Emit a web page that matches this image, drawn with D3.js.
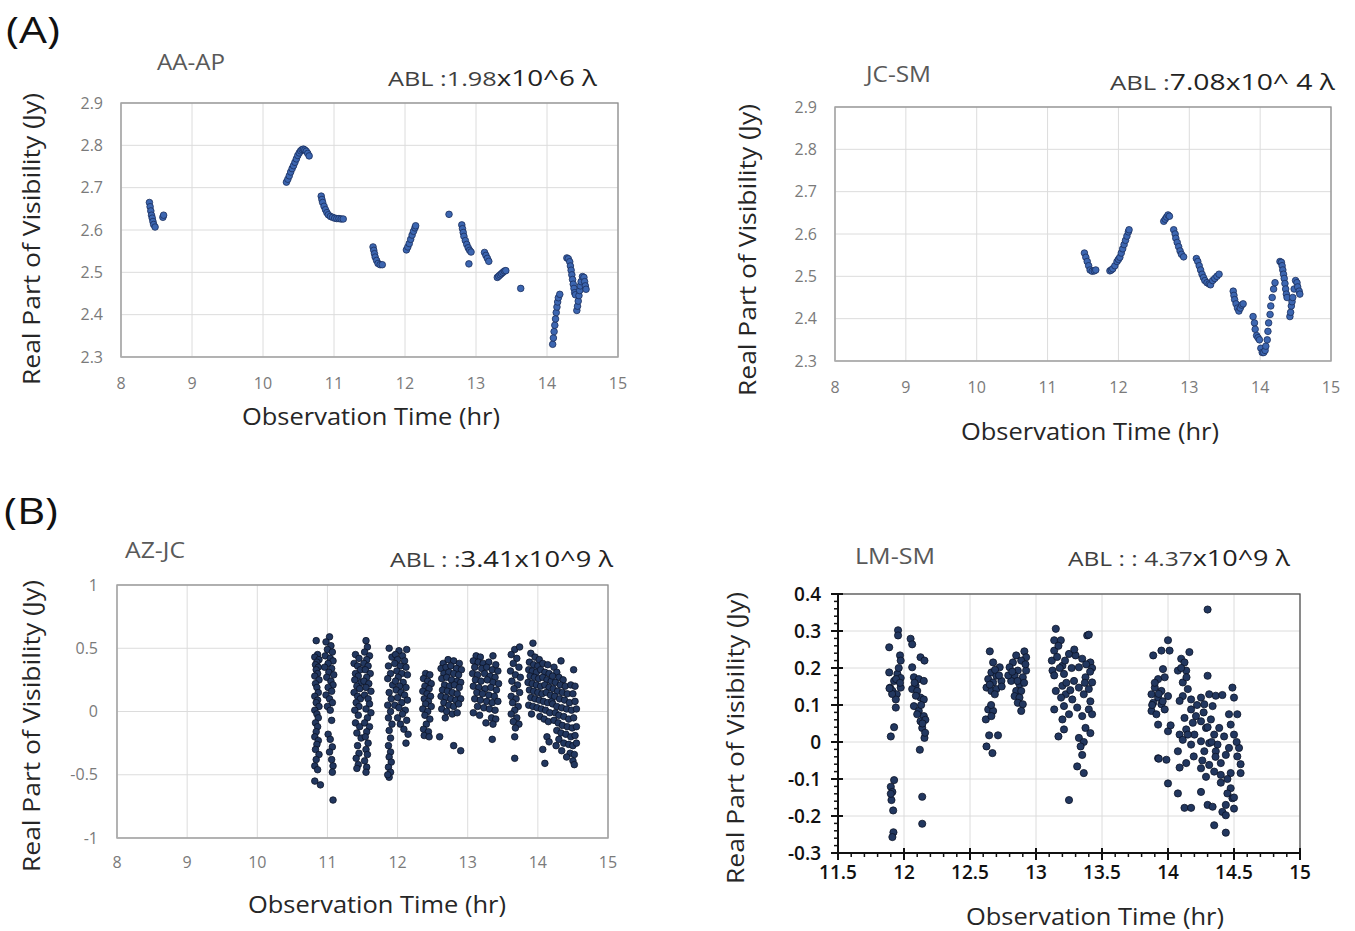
<!DOCTYPE html>
<html>
<head>
<meta charset="utf-8">
<script src="https://cdn.jsdelivr.net/npm/d3@7"></script>
<style>
  body { margin: 0; background: #fff; }
  svg { display: block; }
</style>
</head>
<body>
<svg id="fig" width="1355" height="931"></svg>
<script>
/* Four visibility-vs-time scatter panels, (A) short and (B) long baselines */

// ---- data (time in hr, real part of visibility in Jy) ----
const aaApPoints = [
  [8.40,2.665],[8.41,2.655],[8.42,2.645],[8.43,2.635],[8.44,2.628],[8.45,2.62],[8.46,2.613],[8.48,2.607],[8.59,2.63],[8.60,2.635],
  [10.33,2.713],[10.35,2.72],[10.37,2.728],[10.39,2.737],[10.41,2.745],[10.43,2.752],[10.45,2.76],[10.47,2.768],[10.49,2.776],[10.51,2.782],
  [10.53,2.787],[10.55,2.79],[10.57,2.791],[10.59,2.789],[10.61,2.786],[10.63,2.781],[10.65,2.775],
  [10.82,2.68],[10.83,2.672],[10.84,2.665],[10.86,2.656],[10.88,2.648],[10.90,2.641],[10.92,2.636],[10.95,2.632],[10.98,2.63],[11.01,2.628],
  [11.04,2.627],[11.07,2.627],[11.10,2.626],[11.13,2.626],
  [11.55,2.56],[11.56,2.552],[11.57,2.544],[11.58,2.536],[11.60,2.528],[11.62,2.521],[11.65,2.518],[11.68,2.518],
  [12.02,2.553],[12.04,2.56],[12.06,2.568],[12.08,2.578],[12.10,2.588],[12.12,2.597],[12.14,2.605],[12.15,2.61],
  [12.62,2.637],
  [12.80,2.612],[12.81,2.603],[12.82,2.594],[12.83,2.585],[12.85,2.575],[12.87,2.566],[12.89,2.558],[12.91,2.552],[12.93,2.548],[12.90,2.52],
  [13.12,2.547],[13.14,2.54],[13.16,2.533],[13.18,2.526],
  [13.30,2.488],[13.32,2.491],[13.34,2.494],[13.36,2.497],[13.38,2.5],[13.40,2.503],[13.42,2.504],
  [13.63,2.462],
  [14.08,2.33],[14.09,2.345],[14.10,2.36],[14.11,2.375],[14.12,2.39],[14.13,2.405],[14.14,2.418],[14.15,2.43],[14.16,2.44],[14.18,2.448],
  [14.28,2.534],[14.30,2.532],[14.32,2.525],[14.33,2.515],[14.34,2.505],[14.35,2.494],[14.36,2.483],[14.37,2.472],[14.38,2.462],[14.39,2.452],[14.40,2.447],
  [14.42,2.41],[14.43,2.42],[14.44,2.432],[14.45,2.445],[14.46,2.457],[14.47,2.468],[14.48,2.478],
  [14.50,2.49],[14.52,2.488],[14.53,2.478],[14.54,2.468],[14.55,2.46]
];

const jcSmPoints = [
  [11.52,2.555],[11.54,2.545],[11.56,2.535],[11.58,2.525],[11.60,2.515],[11.63,2.512],[11.66,2.513],[11.68,2.515],
  [11.88,2.513],[11.90,2.515],[11.92,2.518],[11.95,2.525],[11.98,2.535],[12.00,2.54],[12.02,2.545],[12.04,2.555],[12.06,2.565],
  [12.08,2.575],[12.10,2.585],[12.12,2.595],[12.14,2.605],[12.15,2.61],
  [12.64,2.63],[12.66,2.635],[12.68,2.64],[12.70,2.645],[12.72,2.642],
  [12.78,2.61],[12.80,2.6],[12.81,2.59],[12.83,2.58],[12.85,2.57],[12.87,2.56],[12.89,2.552],[12.92,2.546],
  [13.10,2.542],[13.12,2.535],[13.14,2.525],[13.16,2.515],[13.18,2.505],[13.20,2.497],[13.22,2.49],[13.25,2.485],
  [13.28,2.482],[13.30,2.48],[13.33,2.49],[13.36,2.495],[13.39,2.5],[13.42,2.505],
  [13.62,2.465],[13.63,2.455],[13.64,2.445],[13.66,2.435],[13.68,2.425],[13.70,2.418],[13.72,2.425],[13.74,2.432],[13.76,2.435],
  [13.90,2.405],[13.92,2.39],[13.93,2.375],[13.95,2.36],[13.97,2.355],[13.99,2.35],
  [14.01,2.33],[14.03,2.32],[14.05,2.32],[14.07,2.325],[14.08,2.335],[14.10,2.35],[14.11,2.37],[14.12,2.39],[14.14,2.41],
  [14.15,2.43],[14.17,2.45],[14.19,2.47],[14.21,2.485],
  [14.28,2.535],[14.30,2.533],[14.31,2.525],[14.32,2.515],[14.33,2.505],[14.34,2.495],[14.35,2.483],[14.36,2.47],[14.37,2.458],[14.38,2.45],
  [14.42,2.405],[14.43,2.415],[14.44,2.43],[14.45,2.44],[14.46,2.45],[14.48,2.47],
  [14.50,2.49],[14.52,2.485],[14.53,2.475],[14.55,2.465],[14.56,2.458]
];

const azJcPoints = [
  [10.84,0.56],[10.86,0.45],[10.82,0.43],[10.88,0.41],[10.85,0.39],[10.83,0.37],[10.87,0.35],[10.84,0.33],[10.86,0.30],[10.82,0.28],
  [10.88,0.25],[10.83,0.22],[10.85,0.19],[10.87,0.15],[10.82,0.12],[10.86,0.09],[10.84,0.07],[10.88,0.04],[10.82,0.01],[10.85,-0.02],
  [10.87,-0.05],[10.83,-0.09],[10.86,-0.12],[10.84,-0.16],[10.82,-0.2],[10.87,-0.23],[10.85,-0.26],[10.83,-0.3],[10.88,-0.34],[10.84,-0.38],
  [10.82,-0.43],[10.86,-0.46],[10.82,-0.55],[10.90,-0.58],
  [11.03,0.59],[10.98,0.55],[11.05,0.52],[11.00,0.49],[11.07,0.47],[10.97,0.44],[11.04,0.42],[11.08,0.40],[11.01,0.38],[10.96,0.35],
  [11.06,0.34],[11.02,0.31],[11.09,0.29],[10.99,0.27],[11.05,0.24],[11.08,0.21],[11.01,0.19],[11.06,0.16],[10.98,0.13],[11.03,0.10],
  [11.07,0.07],[11.00,0.04],[11.04,0.01],[11.06,-0.07],[11.01,-0.18],[11.04,-0.22],[11.07,-0.28],[11.03,-0.32],[11.06,-0.38],[11.08,-0.43],
  [11.07,-0.48],[11.08,-0.70],
  [11.40,0.45],[11.45,0.42],[11.38,0.38],[11.43,0.36],[11.47,0.33],[11.40,0.30],[11.44,0.28],[11.39,0.25],[11.48,0.23],[11.42,0.20],
  [11.46,0.18],[11.38,0.15],[11.43,0.12],[11.47,0.10],[11.41,0.07],[11.45,0.04],[11.39,0.01],[11.44,-0.03],[11.40,-0.09],[11.46,-0.12],
  [11.42,-0.17],[11.48,-0.21],[11.43,-0.27],[11.45,-0.33],[11.41,-0.37],[11.44,-0.42],[11.42,-0.45],
  [11.55,0.56],[11.57,0.51],[11.53,0.47],[11.60,0.44],[11.56,0.41],[11.52,0.38],[11.58,0.36],[11.54,0.33],[11.61,0.30],[11.56,0.27],
  [11.52,0.24],[11.59,0.22],[11.55,0.19],[11.62,0.16],[11.53,0.13],[11.58,0.10],[11.60,0.06],[11.55,0.02],[11.62,-0.01],[11.57,-0.05],
  [11.53,-0.09],[11.60,-0.12],[11.56,-0.16],[11.54,-0.20],[11.58,-0.25],[11.55,-0.30],[11.57,-0.34],[11.53,-0.39],[11.56,-0.44],[11.55,-0.48],
  [11.88,0.50],[11.92,0.43],[11.87,0.36],[11.90,0.30],[11.86,0.26],[11.93,0.21],[11.88,0.15],[11.91,0.10],[11.86,0.05],[11.90,0.00],
  [11.87,-0.05],[11.92,-0.10],[11.88,-0.15],[11.90,-0.21],[11.87,-0.27],[11.90,-0.32],[11.88,-0.36],[11.91,-0.40],[11.87,-0.44],[11.90,-0.48],
  [11.88,-0.52],[11.86,-0.50],
  [12.02,0.48],[12.13,0.49],[11.97,0.45],[12.07,0.44],[12.00,0.41],[12.10,0.40],[11.96,0.38],[12.04,0.36],[12.12,0.35],[11.99,0.32],
  [12.06,0.30],[12.14,0.29],[12.01,0.27],[11.97,0.24],[12.08,0.23],[12.03,0.20],[12.12,0.19],[11.98,0.17],[12.05,0.15],[12.10,0.13],
  [12.00,0.11],[12.14,0.09],[12.06,0.07],[11.96,0.05],[12.02,0.03],[12.11,0.01],[12.07,-0.02],[12.00,-0.05],[12.13,-0.07],[12.04,-0.10],
  [12.09,-0.14],[12.15,-0.18],[12.12,-0.25],
  [12.40,0.30],[12.46,0.29],[12.37,0.26],[12.43,0.24],[12.48,0.22],[12.39,0.20],[12.45,0.18],[12.36,0.16],[12.42,0.14],[12.47,0.12],
  [12.38,0.10],[12.44,0.08],[12.40,0.06],[12.48,0.04],[12.36,0.02],[12.43,0.00],[12.39,-0.03],[12.46,-0.06],[12.41,-0.10],[12.37,-0.14],
  [12.44,-0.16],[12.38,-0.19],[12.45,-0.20],[12.60,-0.20],
  [12.65,0.38],[12.72,0.41],[12.80,0.40],[12.88,0.38],[12.62,0.34],[12.69,0.35],[12.76,0.36],[12.84,0.34],[12.91,0.33],[12.66,0.30],
  [12.73,0.31],[12.80,0.30],[12.87,0.29],[12.63,0.26],[12.70,0.27],[12.77,0.25],[12.85,0.24],[12.90,0.23],[12.67,0.21],[12.74,0.20],
  [12.81,0.21],[12.88,0.19],[12.64,0.17],[12.71,0.16],[12.78,0.15],[12.85,0.14],[12.62,0.12],[12.69,0.11],[12.76,0.10],[12.83,0.09],
  [12.90,0.10],[12.66,0.07],[12.73,0.05],[12.80,0.04],[12.87,0.06],[12.63,0.02],[12.70,0.00],[12.78,-0.02],[12.85,-0.01],[12.68,-0.05],
  [12.80,-0.27],[12.90,-0.31],
  [13.12,0.44],[13.18,0.43],[13.36,0.44],[13.08,0.40],[13.15,0.39],[13.22,0.38],[13.30,0.39],[13.40,0.37],[13.10,0.35],[13.20,0.34],
  [13.27,0.35],[13.35,0.33],[13.43,0.32],[13.07,0.30],[13.14,0.29],[13.24,0.30],[13.32,0.28],[13.39,0.27],[13.11,0.25],[13.19,0.24],
  [13.28,0.25],[13.36,0.23],[13.44,0.22],[13.08,0.20],[13.16,0.19],[13.25,0.18],[13.33,0.19],[13.41,0.17],[13.13,0.15],[13.21,0.14],
  [13.30,0.13],[13.38,0.12],[13.10,0.10],[13.18,0.09],[13.27,0.08],[13.35,0.07],[13.43,0.08],[13.14,0.04],[13.23,0.03],[13.31,0.02],
  [13.39,0.01],[13.08,-0.01],[13.17,-0.03],[13.34,-0.05],[13.40,-0.06],[13.26,-0.09],[13.36,-0.10],[13.35,-0.22],
  [13.67,0.49],[13.74,0.51],[13.62,0.45],[13.70,0.42],[13.65,0.38],[13.73,0.35],[13.61,0.32],[13.68,0.29],[13.75,0.27],[13.63,0.24],
  [13.71,0.21],[13.66,0.18],[13.74,0.15],[13.62,0.12],[13.69,0.10],[13.64,0.07],[13.72,0.04],[13.67,0.01],[13.62,-0.02],[13.70,-0.05],
  [13.65,-0.08],[13.73,-0.10],[13.68,-0.13],[13.67,-0.20],[13.67,-0.37],
  [13.93,0.54],[13.90,0.46],[13.96,0.43],[14.02,0.41],[13.88,0.39],[13.94,0.37],[14.00,0.36],[14.07,0.38],[14.14,0.37],[13.87,0.33],
  [13.92,0.32],[13.98,0.31],[14.04,0.33],[14.10,0.31],[14.16,0.30],[13.89,0.28],[13.95,0.27],[14.01,0.26],[14.07,0.27],[14.13,0.25],
  [14.19,0.24],[13.86,0.23],[13.92,0.22],[13.98,0.21],[14.04,0.20],[14.10,0.21],[14.16,0.19],[13.88,0.17],[13.94,0.16],[14.00,0.15],
  [14.06,0.14],[14.12,0.15],[14.18,0.13],[13.90,0.11],[13.96,0.10],[14.02,0.09],[14.08,0.08],[14.14,0.07],[14.20,0.08],[13.87,0.05],
  [13.93,0.04],[13.99,0.03],[14.05,0.02],[14.11,0.01],[14.17,-0.01],[13.91,-0.02],[14.03,-0.04],[14.09,-0.06],[14.15,-0.08],[14.07,-0.30],
  [14.10,-0.41],[14.13,-0.20],[14.16,-0.24],
  [14.23,0.35],[14.33,0.40],[14.27,0.31],[14.21,0.28],[14.30,0.27],[14.36,0.25],[14.25,0.23],[14.32,0.21],[14.39,0.20],[14.47,0.21],
  [14.22,0.18],[14.28,0.16],[14.35,0.15],[14.42,0.14],[14.50,0.14],[14.24,0.12],[14.31,0.10],[14.38,0.09],[14.45,0.07],[14.53,0.08],
  [14.21,0.06],[14.27,0.04],[14.34,0.03],[14.41,0.02],[14.48,0.01],[14.55,0.02],[14.25,-0.01],[14.30,-0.03],[14.37,-0.04],[14.44,-0.06],
  [14.51,-0.05],[14.23,-0.07],[14.29,-0.09],[14.35,-0.11],[14.42,-0.12],[14.49,-0.13],[14.55,-0.12],[14.27,-0.15],[14.33,-0.17],[14.40,-0.18],
  [14.47,-0.20],[14.53,-0.19],[14.30,-0.22],[14.37,-0.25],[14.44,-0.26],[14.50,-0.27],[14.55,-0.25],[14.26,-0.27],[14.34,-0.31],[14.46,-0.33],
  [14.52,-0.34],[14.41,-0.36],[14.50,-0.39],[14.52,-0.42],[14.53,0.20],[14.51,0.33]
];

const lmSmPoints = [
  [11.955,0.302],[11.955,0.288],[11.888,0.256],[11.97,0.234],[11.975,0.22],[11.888,0.188],[11.95,0.184],[11.975,0.173],[11.925,0.165],
  [11.895,0.147],[11.975,0.147],[11.912,0.138],[11.945,0.129],[11.938,0.115],[11.938,0.093],[11.925,0.04],[11.90,0.015],[11.925,-0.103],
  [11.90,-0.121],[11.912,-0.135],[11.905,-0.157],[11.918,-0.185],[11.92,-0.244],[11.912,-0.257],[11.96,0.20],[11.94,0.17],[11.91,0.13],
  [11.89,0.145],[11.97,0.16],[11.90,-0.14],
  [12.05,0.279],[12.062,0.264],[12.125,0.229],[12.155,0.22],[12.062,0.202],[12.075,0.175],[12.112,0.17],[12.15,0.165],[12.088,0.152],
  [12.062,0.143],[12.10,0.138],[12.125,0.12],[12.15,0.115],[12.075,0.097],[12.112,0.084],[12.15,0.07],[12.125,0.056],[12.162,0.06],
  [12.138,0.038],[12.155,0.011],[12.12,-0.021],[12.138,-0.148],[12.138,-0.221],[12.09,0.125],[12.13,0.10],[12.10,0.075],[12.14,0.05],
  [12.08,0.16],[12.16,0.025],
  [12.65,0.245],[12.675,0.215],[12.725,0.202],[12.662,0.188],[12.70,0.179],[12.638,0.17],[12.675,0.161],[12.738,0.165],[12.625,0.147],
  [12.662,0.138],[12.70,0.143],[12.688,0.129],[12.638,0.088],[12.675,0.084],[12.62,0.061],[12.662,0.07],[12.645,0.018],[12.712,0.018],
  [12.625,-0.012],[12.67,-0.03],[12.69,0.195],[12.72,0.18],[12.65,0.155],[12.74,0.15],[12.66,0.10],
  [12.912,0.245],[12.85,0.234],[12.925,0.229],[12.825,0.215],[12.888,0.22],[12.80,0.202],[12.862,0.193],[12.925,0.193],[12.838,0.179],
  [12.90,0.175],[12.812,0.165],[12.875,0.156],[12.85,0.138],[12.888,0.138],[12.838,0.124],[12.875,0.12],[12.862,0.106],[12.90,0.102],
  [12.888,0.084],[12.92,0.21],[12.79,0.18],[12.86,0.165],[12.91,0.16],[12.82,0.19],
  [13.15,0.306],[13.138,0.275],[13.138,0.247],[13.12,0.22],[13.125,0.193],[13.138,0.18],[13.15,0.138],[13.138,0.088],[13.17,0.015],
  [13.388,0.288],[13.188,0.275],[13.25,0.238],[13.30,0.234],[13.35,0.225],[13.412,0.215],[13.20,0.206],[13.325,0.202],[13.425,0.20],
  [13.212,0.184],[13.375,0.175],[13.288,0.165],[13.425,0.161],[13.20,0.152],[13.325,0.147],[13.40,0.143],[13.225,0.129],[13.362,0.129],
  [13.275,0.115],[13.412,0.11],[13.212,0.097],[13.312,0.093],[13.40,0.088],[13.25,0.075],[13.35,0.07],[13.425,0.075],[13.20,0.061],
  [13.375,0.038],[13.412,0.024],[13.212,0.034],[13.325,0.011],[13.362,0.0],[13.338,-0.012],[13.35,-0.035],[13.312,-0.066],[13.362,-0.084],
  [13.25,-0.157],[13.17,0.26],[13.16,0.23],[13.22,0.22],[13.18,0.20],[13.27,0.20],[13.23,0.16],[13.19,0.12],[13.26,0.14],[13.40,0.29],
  [13.29,0.25],[13.38,0.21],[13.41,0.19],[13.37,0.16],
  [14.30,0.358],[14.00,0.275],[13.95,0.247],[14.012,0.247],[13.888,0.234],[14.162,0.243],[14.10,0.225],[14.125,0.215],[14.075,0.193],
  [14.138,0.193],[13.962,0.197],[14.30,0.179],[13.925,0.17],[13.975,0.175],[14.112,0.161],[14.15,0.143],[13.90,0.147],[13.95,0.138],
  [13.875,0.129],[14.00,0.124],[13.925,0.12],[14.112,0.124],[14.312,0.129],[14.362,0.125],[14.412,0.127],[14.25,0.12],[14.488,0.147],
  [14.50,0.12],[13.888,0.106],[13.95,0.102],[14.088,0.111],[14.175,0.115],[14.275,0.102],[14.338,0.097],[13.875,0.084],[13.975,0.088],
  [13.912,0.075],[14.175,0.088],[14.462,0.075],[14.525,0.075],[14.212,0.07],[14.125,0.065],[14.325,0.061],[14.25,0.056],[13.925,0.047],
  [14.00,0.029],[14.188,0.052],[14.475,0.047],[14.138,0.034],[14.288,0.038],[14.388,0.038],[14.088,0.02],[14.20,0.02],[14.35,0.02],
  [14.425,0.015],[14.50,0.02],[14.112,0.006],[14.25,0.002],[14.312,-0.003],[14.175,-0.007],[14.375,-0.007],[14.462,-0.016],[14.538,-0.016],
  [14.075,-0.025],[14.275,-0.025],[14.362,-0.025],[14.438,-0.035],[13.925,-0.044],[13.988,-0.048],[14.195,-0.039],[14.525,-0.039],
  [14.138,-0.057],[14.312,-0.062],[14.40,-0.057],[14.088,-0.069],[14.25,-0.071],[14.35,-0.08],[14.475,-0.084],[14.55,-0.084],
  [14.288,-0.094],[14.40,-0.089],[14.00,-0.112],[14.475,-0.125],[14.075,-0.139],[14.25,-0.135],[14.45,-0.139],[14.488,-0.152],
  [14.30,-0.17],[14.338,-0.175],[14.125,-0.178],[14.175,-0.178],[14.438,-0.17],[14.50,-0.18],[14.412,-0.189],[14.438,-0.198],
  [14.35,-0.225],[14.438,-0.245],[13.90,0.16],[13.93,0.13],[13.96,0.11],[13.88,0.10],[14.10,0.20],[14.14,0.175],[14.22,0.10],
  [14.27,0.08],[14.30,0.04],[14.33,0.0],[14.36,-0.04],[14.26,-0.05],[14.40,-0.11],[14.45,-0.10],[14.52,0.0],[14.55,-0.06],[14.50,-0.15],
  [13.93,-0.045],[14.02,0.045],[14.15,0.02]
];

// ---- ticks ----
const hourTicks = [8, 9, 10, 11, 12, 13, 14, 15];
const shortYTicks = [2.3, 2.4, 2.5, 2.6, 2.7, 2.8, 2.9];
const azJcYTicks = [-1, -0.5, 0, 0.5, 1];
const lmSmXTicks = [11.5, 12, 12.5, 13, 13.5, 14, 14.5, 15];
const lmSmYTicks = [-0.3, -0.2, -0.1, 0, 0.1, 0.2, 0.3, 0.4];

const svg = d3.select("svg#fig");
const FONT = "'Open Sans', 'Noto Sans', sans-serif";

// generic panel: box, grid, ticks, titles, dots
function drawPanel(p) {
  const x = d3.scaleLinear().domain(p.xDomain).range([p.left, p.right]);
  const y = d3.scaleLinear().domain(p.yDomain).range([p.bottom, p.top]);
  const g = svg.append("g");

  // grid
  g.selectAll("line.vg").data(p.xTicks).join("line")
    .attr("x1", d => x(d)).attr("x2", d => x(d))
    .attr("y1", p.top).attr("y2", p.bottom)
    .attr("stroke", "#dcdcdc").attr("stroke-width", 1);
  g.selectAll("line.hg").data(p.yTicks).join("line")
    .attr("x1", p.left).attr("x2", p.right)
    .attr("y1", d => y(d)).attr("y2", d => y(d))
    .attr("stroke", "#dcdcdc").attr("stroke-width", 1);

  // box
  g.append("rect")
    .attr("x", p.left).attr("y", p.top)
    .attr("width", p.right - p.left).attr("height", p.bottom - p.top)
    .attr("fill", "none").attr("stroke", p.boxColor).attr("stroke-width", 1.3);

  if (p.origin) {
    // black axes with crossing majors and outward minors
    g.append("line").attr("x1", p.left).attr("x2", p.right).attr("y1", p.bottom).attr("y2", p.bottom)
      .attr("stroke", "#111").attr("stroke-width", 2);
    g.append("line").attr("x1", p.left).attr("x2", p.left).attr("y1", p.top).attr("y2", p.bottom)
      .attr("stroke", "#111").attr("stroke-width", 2);
    const xMinor = d3.range(p.xDomain[0] * 10, p.xDomain[1] * 10 + 1).map(d => d / 10);
    const yMinor = d3.range(p.yDomain[0] * 50, p.yDomain[1] * 50 + 1).map(d => d / 50);
    g.selectAll("line.xm").data(xMinor).join("line")
      .attr("x1", d => x(d)).attr("x2", d => x(d))
      .attr("y1", p.bottom).attr("y2", p.bottom + 4)
      .attr("stroke", "#111").attr("stroke-width", 1.5);
    g.selectAll("line.ym").data(yMinor).join("line")
      .attr("x1", p.left - 4).attr("x2", p.left)
      .attr("y1", d => y(d)).attr("y2", d => y(d))
      .attr("stroke", "#111").attr("stroke-width", 1.5);
    g.selectAll("line.xM").data(p.xTicks).join("line")
      .attr("x1", d => x(d)).attr("x2", d => x(d))
      .attr("y1", p.bottom - 5).attr("y2", p.bottom + 7)
      .attr("stroke", "#111").attr("stroke-width", 2);
    g.selectAll("line.yM").data(p.yTicks).join("line")
      .attr("x1", p.left - 7).attr("x2", p.left + 5)
      .attr("y1", d => y(d)).attr("y2", d => y(d))
      .attr("stroke", "#111").attr("stroke-width", 2);
  } else {
    g.append("line").attr("x1", p.left).attr("x2", p.left).attr("y1", p.top).attr("y2", p.bottom)
      .attr("stroke", "#b5b5b5");
    g.append("line").attr("x1", p.left).attr("x2", p.right).attr("y1", p.bottom).attr("y2", p.bottom)
      .attr("stroke", "#b5b5b5");
  }

  // tick labels
  g.selectAll("text.xt").data(p.xTicks).join("text")
    .attr("x", d => x(d)).attr("y", p.bottom + p.xLabelGap)
    .attr("text-anchor", "middle")
    .attr("font-family", FONT).attr("font-size", p.tickSize)
    .attr("fill", p.tickColor).attr("font-weight", p.tickWeight)
    .text(d => d);
  g.selectAll("text.yt").data(p.yTicks).join("text")
    .attr("x", p.left - p.yLabelGap).attr("y", d => y(d))
    .attr("dy", "0.35em").attr("text-anchor", "end")
    .attr("font-family", FONT).attr("font-size", p.tickSize)
    .attr("fill", p.tickColor).attr("font-weight", p.tickWeight)
    .text(d => d);

  // dots
  g.append("g").selectAll("circle").data(p.points).join("circle")
    .attr("cx", d => x(d[0])).attr("cy", d => y(d[1]))
    .attr("r", p.r)
    .attr("fill", p.fill).attr("stroke", p.stroke).attr("stroke-width", 0.8);

  // axis titles
  g.append("text")
    .attr("transform", `translate(${p.yTitle[0]},${p.yTitle[1]}) rotate(-90)`)
    .attr("text-anchor", "middle").attr("dy", "0.35em")
    .attr("font-family", FONT).attr("font-size", 23).attr("fill", "#262626")
    .attr("textLength", 292).attr("lengthAdjust", "spacingAndGlyphs")
    .text("Real Part of Visibility (Jy)");
  g.append("text")
    .attr("x", p.xTitle[0]).attr("y", p.xTitle[1])
    .attr("text-anchor", "middle")
    .attr("font-family", FONT).attr("font-size", 23).attr("fill", "#262626")
    .attr("textLength", 258).attr("lengthAdjust", "spacingAndGlyphs")
    .text("Observation Time (hr)");

  // baseline name and ABL
  g.append("text")
    .attr("x", p.name[1]).attr("y", p.name[2])
    .attr("font-family", FONT).attr("font-size", 21).attr("fill", "#595959")
    .attr("textLength", p.name[3]).attr("lengthAdjust", "spacingAndGlyphs")
    .text(p.name[0]);
  const abl = g.append("text")
    .attr("x", p.abl[1]).attr("y", p.abl[2])
    .attr("font-family", FONT).attr("font-size", 21).attr("fill", "#333")
    .attr("textLength", p.abl[3]).attr("lengthAdjust", "spacingAndGlyphs");
  abl.append("tspan").attr("font-size", 20).attr("fill", "#404040").text(p.abl[0][0]);
  abl.append("tspan").attr("font-size", 22).attr("fill", "#222").text(p.abl[0][1]);
}

const excelDots = { fill: "#3c66b1", stroke: "#1b2f5d", r: 3.3 };
const darkDots = { fill: "#22375f", stroke: "#0b1326", r: 3.3 };
const excelAxes = { boxColor: "#8f8f8f", tickSize: 16, tickColor: "#7a7a7a", tickWeight: 400, origin: false };

drawPanel(Object.assign({}, excelAxes, excelDots, {
  left: 121, right: 618, top: 103, bottom: 357,
  xDomain: [8, 15], yDomain: [2.3, 2.9], xTicks: hourTicks, yTicks: shortYTicks,
  xLabelGap: 32, yLabelGap: 18, points: aaApPoints,
  yTitle: [32, 239], xTitle: [371, 425],
  name: ["AA-AP", 157, 70, 68], abl: [["ABL :1.98", "x10^6  λ"], 388, 86, 209]
}));

drawPanel(Object.assign({}, excelAxes, excelDots, {
  left: 835, right: 1331, top: 107, bottom: 361,
  xDomain: [8, 15], yDomain: [2.3, 2.9], xTicks: hourTicks, yTicks: shortYTicks,
  xLabelGap: 32, yLabelGap: 18, points: jcSmPoints,
  yTitle: [748, 250], xTitle: [1090, 440],
  name: ["JC-SM", 866, 82, 65], abl: [["ABL :", "7.08x10^ 4 λ"], 1110, 90, 225]
}));

drawPanel(Object.assign({}, excelAxes, darkDots, {
  left: 117, right: 608, top: 585, bottom: 838,
  xDomain: [8, 15], yDomain: [-1, 1], xTicks: hourTicks, yTicks: azJcYTicks,
  xLabelGap: 30, yLabelGap: 19, points: azJcPoints,
  yTitle: [32, 726], xTitle: [377, 913],
  name: ["AZ-JC", 125, 558, 60], abl: [["ABL : :", "3.41x10^9  λ"], 390, 567, 223]
}));

drawPanel(Object.assign({}, darkDots, {
  boxColor: "#555", tickSize: 19, tickColor: "#111", tickWeight: 600, origin: true, r: 3.6,
  left: 838, right: 1300, top: 594, bottom: 853,
  xDomain: [11.5, 15], yDomain: [-0.3, 0.4], xTicks: lmSmXTicks, yTicks: lmSmYTicks,
  xLabelGap: 26, yLabelGap: 17, points: lmSmPoints,
  yTitle: [736, 738], xTitle: [1095, 925],
  name: ["LM-SM", 855, 564, 80], abl: [["ABL : : 4.37", "x10^9  λ"], 1068, 566, 222]
}));

// panel group letters
svg.append("text").attr("x", 6).attr("y", 43)
  .attr("font-family", FONT).attr("font-size", 37).attr("fill", "#111")
  .attr("textLength", 54).attr("lengthAdjust", "spacingAndGlyphs").text("(A)");
svg.append("text").attr("x", 4).attr("y", 524)
  .attr("font-family", FONT).attr("font-size", 37).attr("fill", "#111")
  .attr("textLength", 54).attr("lengthAdjust", "spacingAndGlyphs").text("(B)");
</script>
</body>
</html>
